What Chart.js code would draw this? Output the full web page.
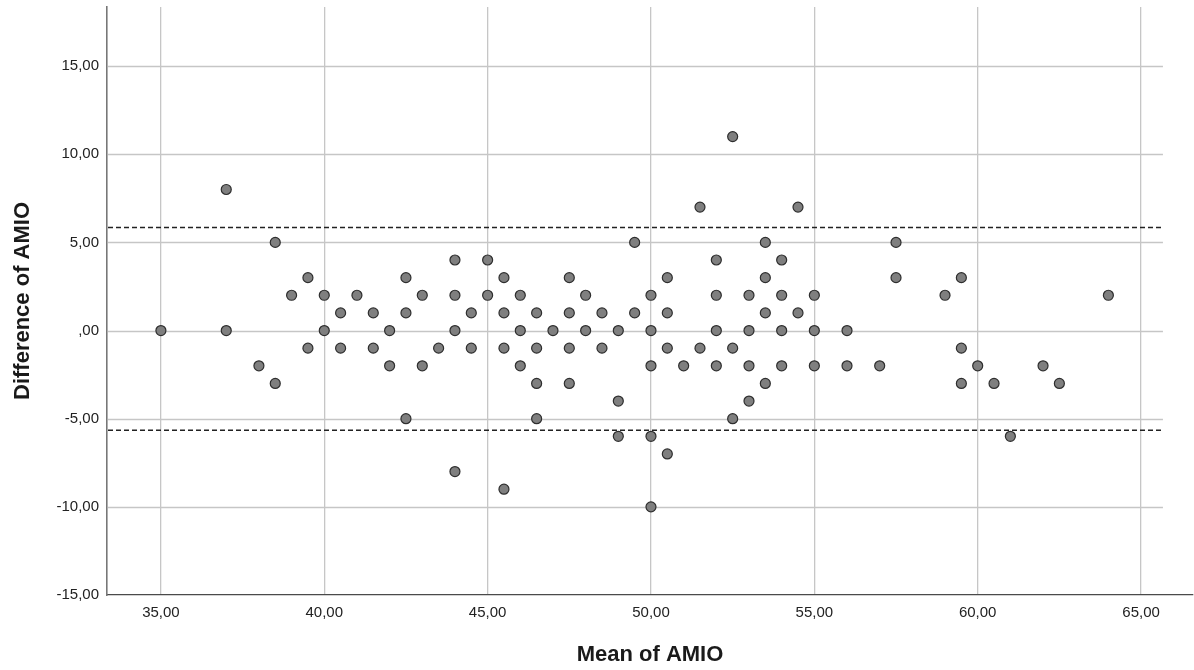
<!DOCTYPE html>
<html>
<head>
<meta charset="utf-8">
<script src="https://cdn.jsdelivr.net/npm/chart.js@4/dist/chart.umd.min.js"></script>
<style>
	html, body { margin: 0; padding: 0; background: #fff; overflow: hidden; }
	canvas { display: block; }
</style>
</head>
<body>
<canvas id="ba_chart" width="1194" height="670"></canvas>
<script>
// Bland-Altman points: mean (x) and difference (y)
const mean_amio = [
	35, 37, 37, 38, 38.5, 38.5, 39, 39.5, 39.5, 40, 40, 40.5, 40.5, 41, 41.5, 41.5,
	49.5, 44, 45, 42.5, 45.5, 47.5, 43, 44, 45, 46, 48, 50,
	42.5, 44.5, 45.5, 46.5, 47.5, 48.5, 49.5,
	42, 44, 46, 47, 48, 49, 50,
	43.5, 44.5, 45.5, 46.5, 47.5, 48.5,
	42, 43, 46, 50, 46.5, 47.5, 49, 42.5, 46.5, 49, 50, 44, 45.5, 50,
	52.5, 51.5, 54.5, 53.5, 57.5, 52, 54, 50.5, 53.5, 57.5,
	52, 53, 54, 55, 50.5, 53.5, 54.5,
	52, 53, 54, 55, 56, 50.5, 51.5, 52.5,
	51, 52, 53, 54, 55, 56, 57, 53.5, 53, 52.5, 50.5,
	59, 59.5, 64, 59.5, 60, 62, 59.5, 60.5, 62.5, 61
];
const diff_amio = [
	0, 8, 0, -2, 5, -3, 2, 3, -1, 2, 0, 1, -1, 2, 1, -1,
	5, 4, 4, 3, 3, 3, 2, 2, 2, 2, 2, 2,
	1, 1, 1, 1, 1, 1, 1,
	0, 0, 0, 0, 0, 0, 0,
	-1, -1, -1, -1, -1, -1,
	-2, -2, -2, -2, -3, -3, -4, -5, -5, -6, -6, -8, -9, -10,
	11, 7, 7, 5, 5, 4, 4, 3, 3, 3,
	2, 2, 2, 2, 1, 1, 1,
	0, 0, 0, 0, 0, -1, -1, -1,
	-2, -2, -2, -2, -2, -2, -2, -3, -4, -5, -7,
	2, 3, 2, -1, -2, -2, -3, -3, -3, -6
];
const limits_of_agreement = [5.85, -5.65];
const x_ticks = [35, 40, 45, 50, 55, 60, 65];
const y_ticks = [-15, -10, -5, 0, 5, 10, 15];

const grid_color = '#c6c6c6';
const grid_end = 65.67;
const font_family = '"Liberation Sans", Arial, sans-serif';

function spss_number(v) {
	if (v === 0) return ',00';
	return v.toFixed(2).replace('.', ',');
}

// no extra room for edge labels, the plot box is set by the layout padding
function no_edge_padding(scale) {
	scale.paddingTop = 0;
	scale.paddingBottom = 0;
	scale.paddingLeft = 0;
	scale.paddingRight = 0;
}

const inner_lines = {
	id: 'inner_lines',
	beforeDatasetsDraw(chart) {
		const {ctx, chartArea} = chart;
		const x = chart.scales.x;
		const y = chart.scales.y;
		const right = x.getPixelForValue(grid_end);
		ctx.save();
		ctx.strokeStyle = grid_color;
		ctx.lineWidth = 1.3;
		y.ticks.forEach(t => {
			if (t.value === y.min) return;
			const py = Math.round(y.getPixelForValue(t.value)) + 0.5;
			ctx.beginPath();
			ctx.moveTo(chartArea.left + 1, py);
			ctx.lineTo(right, py);
			ctx.stroke();
		});
		ctx.strokeStyle = '#222';
		ctx.lineWidth = 1.5;
		ctx.setLineDash([5, 3]);
		limits_of_agreement.forEach(v => {
			const py = y.getPixelForValue(v);
			ctx.beginPath();
			ctx.moveTo(chartArea.left + 1, py);
			ctx.lineTo(right, py);
			ctx.stroke();
		});
		ctx.restore();
	}
};

const ba_chart = new Chart(
	document.getElementById('ba_chart').getContext('2d'),
	{
		type: 'scatter',
		data: {
			datasets: [{
				data: mean_amio.map((m, i) => ({x: m, y: diff_amio[i]})),
				backgroundColor: '#7f7f7f',
				borderColor: '#2e2e2e',
				borderWidth: 1.2,
				pointRadius: 5,
				pointHoverRadius: 5
			}]
		},
		options: {
			responsive: false,
			animation: false,
			layout: {
				autoPadding: false,
				padding: {top: 7, right: 1, bottom: 0, left: 0}
			},
			plugins: {
				legend: {display: false},
				tooltip: {enabled: false}
			},
			scales: {
				x: {
					type: 'linear',
					min: 33.35,
					max: 66.59,
					afterBuildTicks: scale => { scale.ticks = x_ticks.map(v => ({value: v})); },
					afterFit: scale => { scale.height = 75; no_edge_padding(scale); },
					grid: {
						color: grid_color,
						lineWidth: 1.3,
						drawTicks: false
					},
					border: {color: '#4a4a4a', width: 1.2},
					ticks: {
						padding: 9,
						color: '#222',
						font: {family: font_family, size: 15},
						callback: v => spss_number(v)
					},
					title: {
						display: true,
						text: 'Mean of AMIO',
						color: '#1a1a1a',
						padding: {top: 0, bottom: 2},
						font: {family: font_family, size: 22, weight: 'bold'}
					}
				},
				y: {
					type: 'linear',
					min: -15,
					max: 18.35,
					afterBuildTicks: scale => { scale.ticks = y_ticks.map(v => ({value: v})); },
					afterFit: scale => { scale.width = 107; no_edge_padding(scale); },
					grid: {
						drawOnChartArea: false,
						drawTicks: false
					},
					border: {color: '#777', width: 1.6},
					ticks: {
						padding: 8,
						color: '#222',
						font: {family: font_family, size: 15},
						callback: v => spss_number(v)
					},
					title: {
						display: true,
						text: 'Difference of AMIO',
						color: '#1a1a1a',
						padding: {top: 10, bottom: 0},
						font: {family: font_family, size: 22, weight: 'bold'}
					}
				}
			}
		},
		plugins: [inner_lines]
	}
);
</script>
</body>
</html>
